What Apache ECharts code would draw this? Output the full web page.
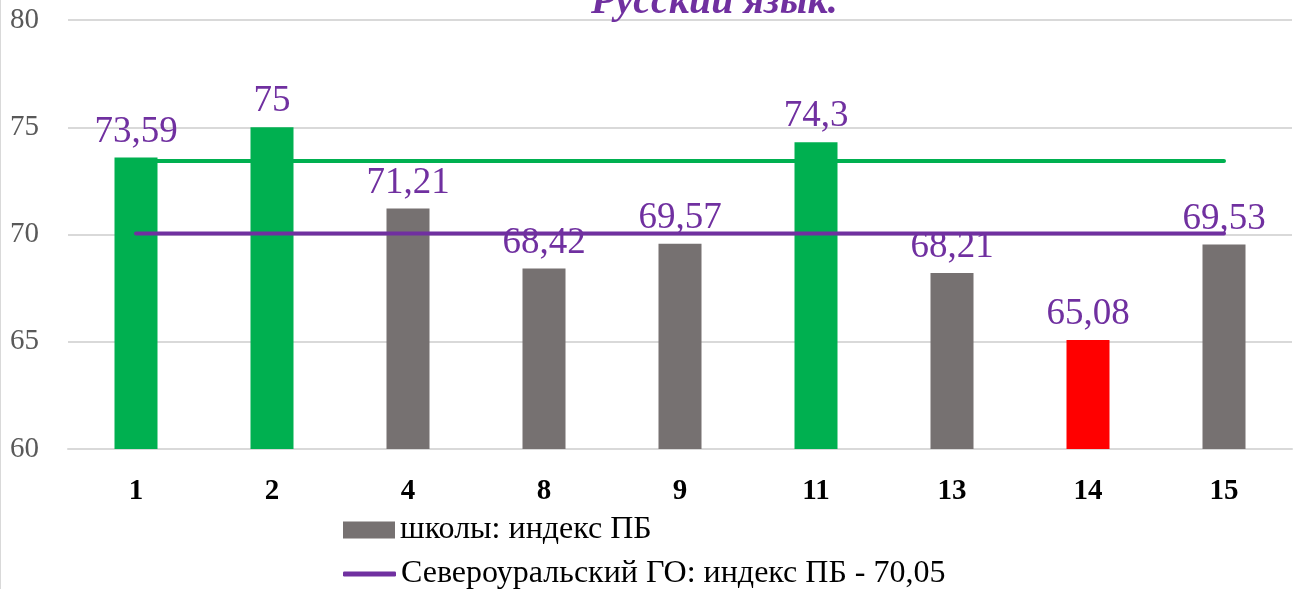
<!DOCTYPE html>
<html><head><meta charset="utf-8">
<script src="https://cdn.jsdelivr.net/npm/echarts@6/dist/echarts.min.js"></script>
<style>html,body{margin:0;padding:0;background:#fff}#c{width:1295px;height:589px;border-left:1px solid #d9d9d9;box-sizing:border-box}</style>
</head><body><div id="c"></div>
<script>
const categories = ['1','2','4','8','9','11','13','14','15'];
const schoolIndex = [73.59, 75, 71.21, 68.42, 69.57, 74.3, 68.21, 65.08, 69.53];
const schoolGroup = ['high','high','mid','mid','mid','high','mid','low','mid'];
const districtValue = 70.05;
const regionValue = 73.43;
const yTicks = [60, 65, 70, 75, 80];
const barName = 'школы: индекс ПБ';
const lineName = 'Североуральский ГО: индекс ПБ - 70,05';

const groupColor = {high:'#00B050', mid:'#767171', low:'#FF0000'};
const serif = '"Liberation Serif","DejaVu Serif",serif';
const legendText = {fontSize:32, color:'#000', fontFamily:serif};
const chart = echarts.init(document.getElementById('c'));
chart.setOption({
  animation:false,
  title:{text:'Русский язык.', left:585, top:-22,
    textStyle:{color:'#7030A0', fontSize:40, fontWeight:'bold', fontStyle:'italic', fontFamily:serif}},
  grid:{left:67, right:3, top:20, bottom:140},
  legend:[
    {left:337, top:509, itemWidth:52, itemHeight:17, itemGap:0, textStyle:legendText,
      data:[{name:barName, icon:'rect'}]},
    {left:337, top:553, itemWidth:53, itemHeight:5, itemGap:0, textStyle:legendText,
      data:[{name:lineName, icon:'roundRect'}]}
  ],
  xAxis:{type:'category', data:categories,
    axisLine:{show:true, lineStyle:{color:'#d9d9d9', width:2}}, axisTick:{show:false},
    axisLabel:{fontSize:29, fontWeight:'bold', color:'#000', fontFamily:serif, margin:28}},
  yAxis:{type:'value', min:yTicks[0], max:yTicks[yTicks.length-1], interval:5,
    axisLine:{show:false}, axisTick:{show:false},
    axisLabel:{fontSize:29, color:'#595959', fontFamily:serif, margin:29},
    splitLine:{lineStyle:{color:'#d9d9d9', width:2}}},
  series:[
    {name:barName, type:'bar', barWidth:43, itemStyle:{color:'#767171'},
      data:schoolIndex.map((v,i)=>({value:v, itemStyle:{color:groupColor[schoolGroup[i]]}})),
      label:{show:true, position:'top', distance:7, color:'#7030A0', fontSize:37, fontFamily:serif,
        formatter:p=>String(p.value).replace('.',',')}, z:2},
    {name:lineName, type:'line', symbol:'none',
      data:categories.map(()=>districtValue), lineStyle:{color:'#7030A0', width:4, cap:'round'}, itemStyle:{color:'#7030A0'}, z:3},
    {name:'регион', type:'line', symbol:'none',
      data:categories.map(()=>regionValue), lineStyle:{color:'#00B050', width:4, cap:'round'}, itemStyle:{color:'#00B050'}, z:3}
  ]
});
</script></body></html>
